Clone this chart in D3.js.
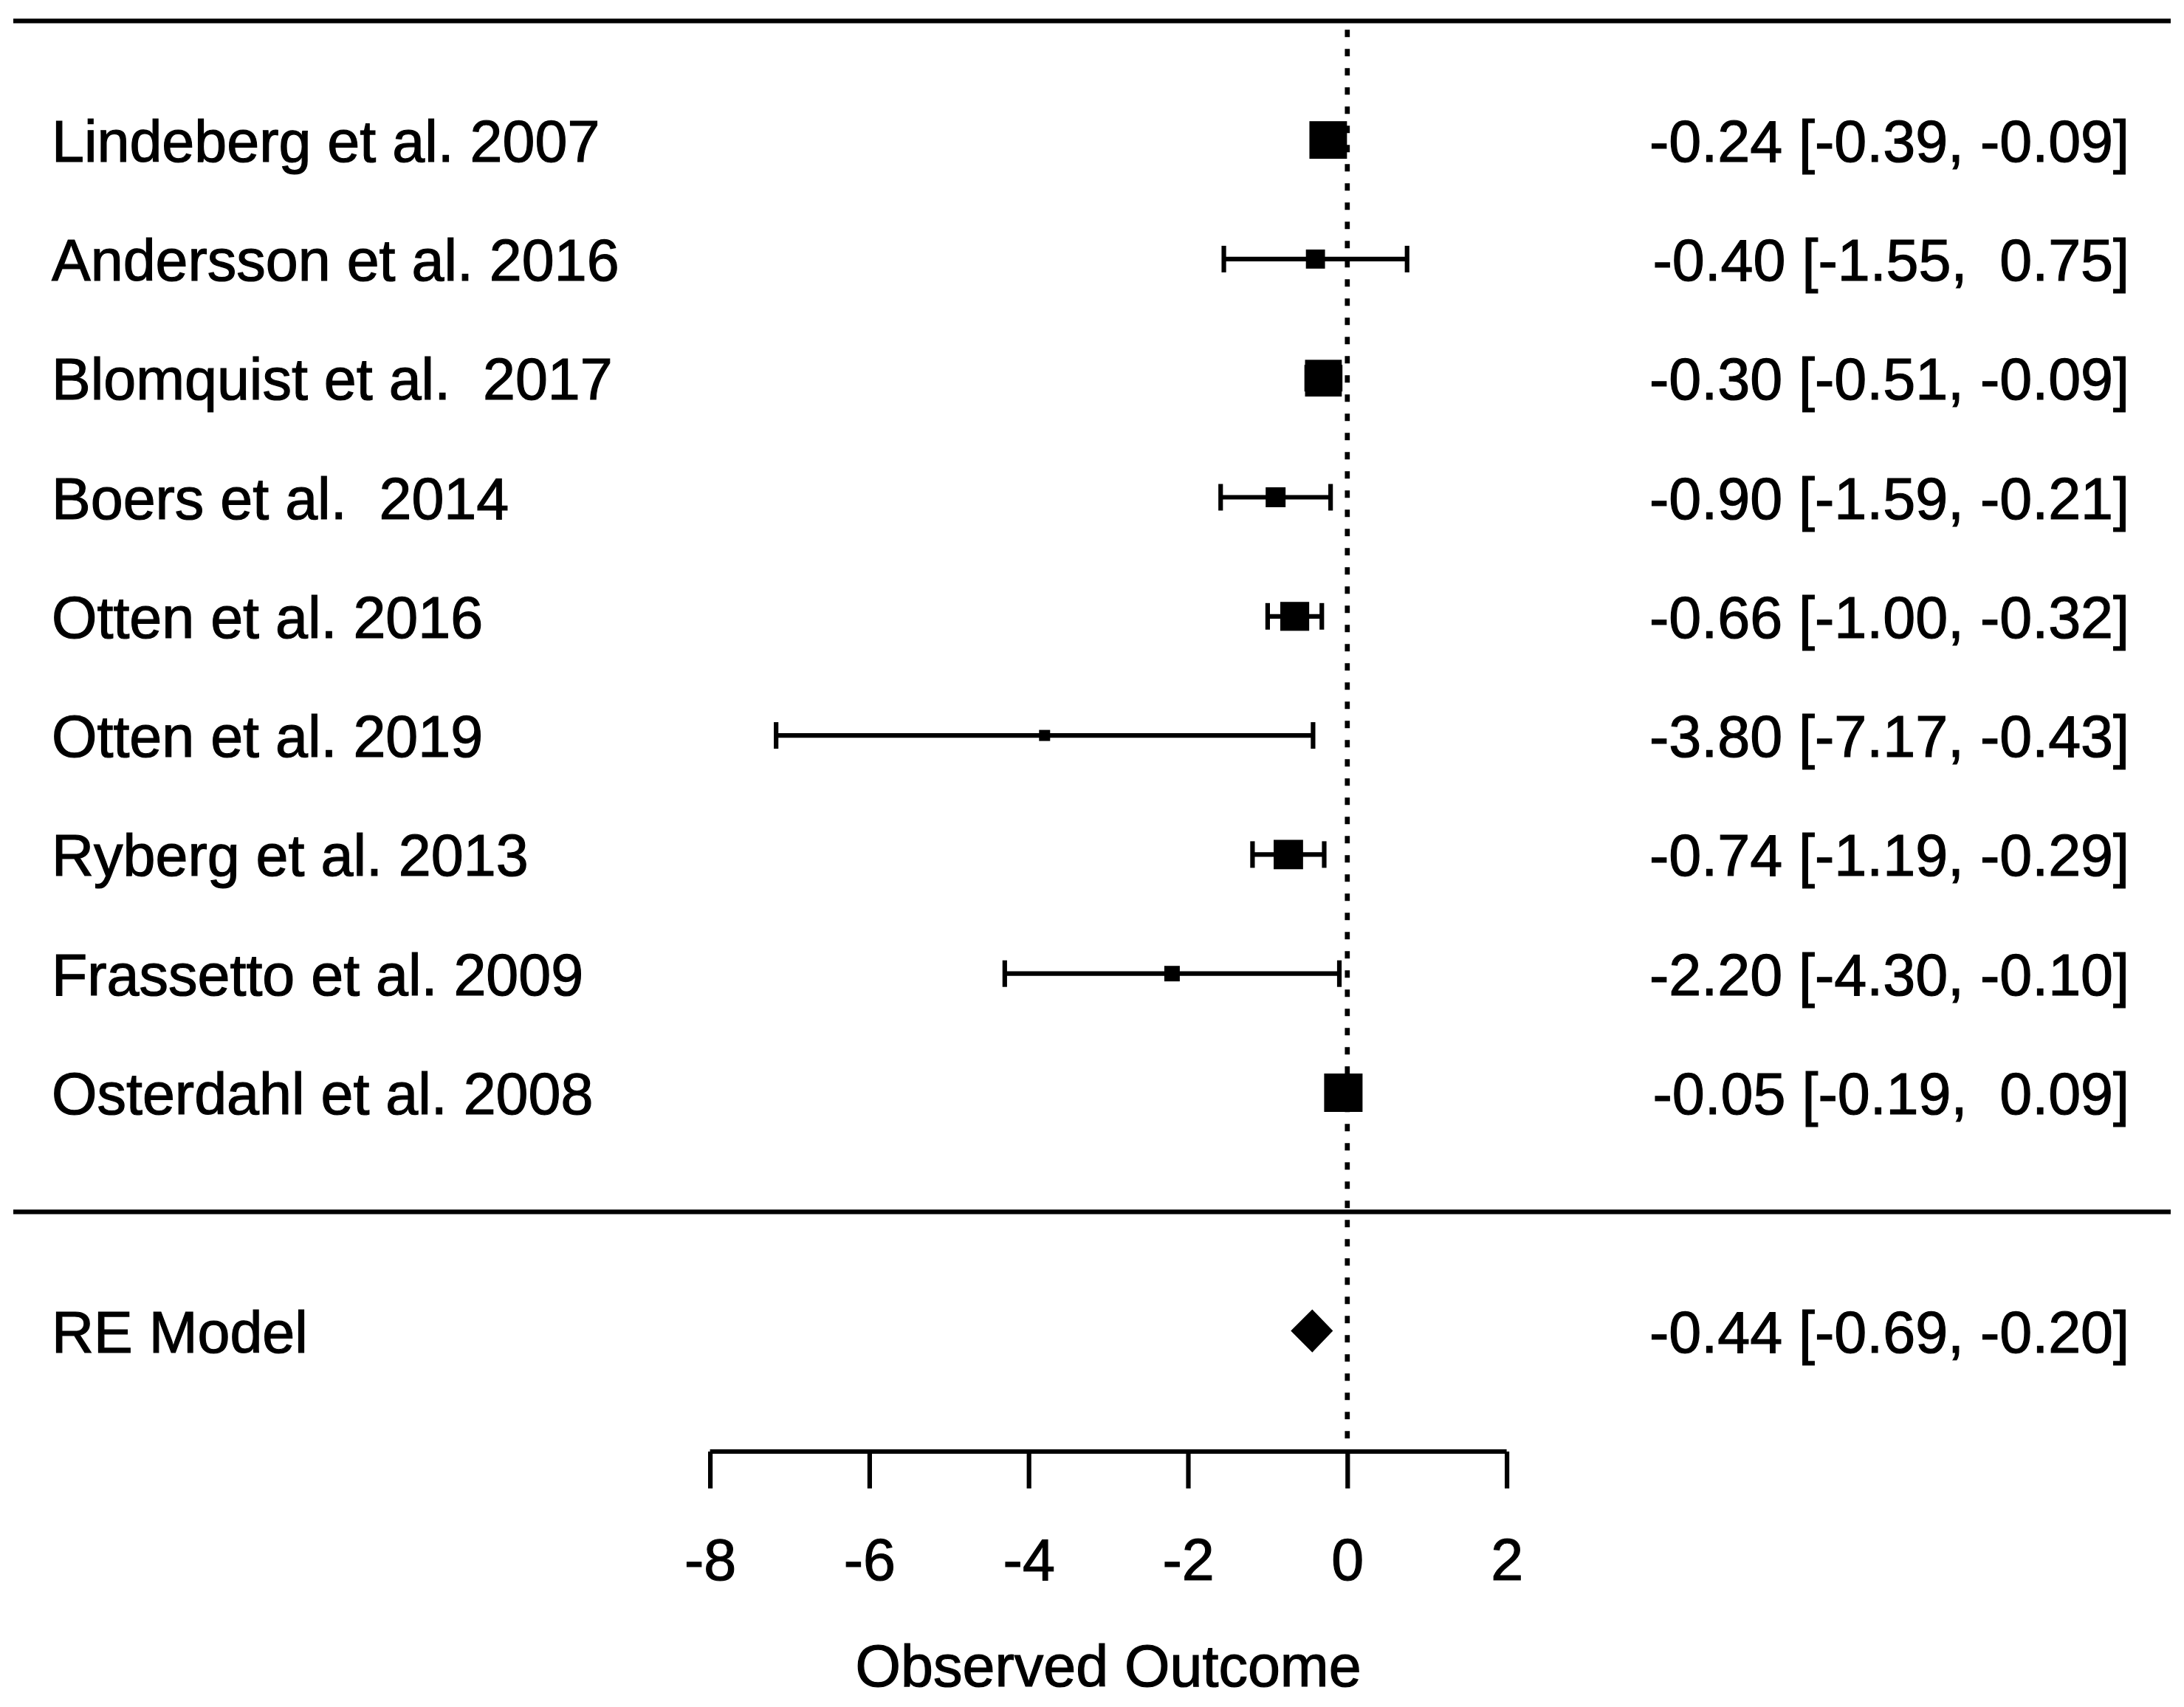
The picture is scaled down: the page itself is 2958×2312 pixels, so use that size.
<!DOCTYPE html>
<html>
<head>
<meta charset="utf-8">
<script src="https://cdn.jsdelivr.net/npm/d3@7"></script>
<style>
  html, body { margin: 0; padding: 0; background: #fff; }
  svg text { font-family: "Liberation Sans", Arial, sans-serif; fill: #000; white-space: pre; stroke: #000; stroke-width: 1.2px; }
</style>
</head>
<body>
<svg id="chart" width="2958" height="2312"></svg>
<script>
// ---- data ----
const studies = [
  "Lindeberg et al. 2007",
  "Andersson et al. 2016",
  "Blomquist et al.  2017",
  "Boers et al.  2014",
  "Otten et al. 2016",
  "Otten et al. 2019",
  "Ryberg et al. 2013",
  "Frassetto et al. 2009",
  "Osterdahl et al. 2008"
];
const estimates = [-0.24, -0.40, -0.30, -0.90, -0.66, -3.80, -0.74, -2.20, -0.05];
const lower     = [-0.39, -1.55, -0.51, -1.59, -1.00, -7.17, -1.19, -4.30, -0.19];
const upper     = [-0.09,  0.75, -0.09, -0.21, -0.32, -0.43, -0.29, -0.10,  0.09];
const weights   = [18.0, 6.7, 17.5, 7.2, 12.7, 1.8, 13.0, 4.5, 18.5];
const summaryLabel = "RE Model";
const summary = { est: -0.44, lb: -0.69, ub: -0.20 };
const xTicks = [-8, -6, -4, -2, 0, 2];
const xLabel = "Observed Outcome";

// ---- layout ----
const W = 2958, H = 2312;
const FS = 79;
const svg = d3.select("#chart");
const k = studies.length;

const x = d3.scaleLinear().domain([-8, 2]).range([961.6, 2040.6]);
const y = d3.scaleLinear().domain([1, k]).range([1480, 189.6]); // row index -> pixel
const size = d3.scaleLinear().domain([0, d3.max(weights)]).range([11, 52]);

const leftX = 70, rightX = 2884;
const lineL = 18, lineR = 2940;
const axisY = 1966;
const lw = 6.2;
const capH = 18;

const rows = studies.map((s, i) => ({
  label: s, est: estimates[i], lb: lower[i], ub: upper[i], w: weights[i], row: k - i
}));

const f2 = d3.format(".2f");
const fmt = v => f2(v).replace("−", "-");
const wEst = d3.max(rows.concat([summary]), d => fmt(d.est).length);
const wLb  = d3.max(rows.concat([summary]), d => fmt(d.lb).length);
const wUb  = d3.max(rows.concat([summary]), d => fmt(d.ub).length);
const annot = d => fmt(d.est).padStart(wEst) + " [" + fmt(d.lb).padStart(wLb) + ", " + fmt(d.ub).padStart(wUb) + "]";

// horizontal rules (top and separator)
svg.selectAll("line.rule").data([k + 1, 0]).join("line")
  .attr("class", "rule")
  .attr("x1", lineL).attr("x2", lineR)
  .attr("y1", d => y(d)).attr("y2", d => y(d))
  .attr("stroke", "#000").attr("stroke-width", lw);

// reference line at 0
svg.append("line")
  .attr("x1", x(0)).attr("x2", x(0))
  .attr("y1", y(k + 1) + 12).attr("y2", axisY)
  .attr("stroke", "#000").attr("stroke-width", lw + 0.5)
  .attr("stroke-dasharray", "10,16");

// CI lines
const g = svg.append("g");
g.selectAll("line.ci").data(rows).join("line")
  .attr("class", "ci")
  .attr("x1", d => x(d.lb)).attr("x2", d => x(d.ub))
  .attr("y1", d => y(d.row)).attr("y2", d => y(d.row))
  .attr("stroke", "#000").attr("stroke-width", lw);
// caps
g.selectAll("line.capL").data(rows).join("line")
  .attr("x1", d => x(d.lb)).attr("x2", d => x(d.lb))
  .attr("y1", d => y(d.row) - capH).attr("y2", d => y(d.row) + capH)
  .attr("stroke", "#000").attr("stroke-width", lw);
g.selectAll("line.capR").data(rows).join("line")
  .attr("x1", d => x(d.ub)).attr("x2", d => x(d.ub))
  .attr("y1", d => y(d.row) - capH).attr("y2", d => y(d.row) + capH)
  .attr("stroke", "#000").attr("stroke-width", lw);
// squares
g.selectAll("rect.pt").data(rows).join("rect")
  .attr("class", "pt")
  .attr("x", d => x(d.est) - size(d.w) / 2)
  .attr("y", d => y(d.row) - size(d.w) / 2)
  .attr("width", d => size(d.w)).attr("height", d => size(d.w))
  .attr("fill", "#000");

// summary diamond
const sRow = -1, dh = 27;
svg.append("path")
  .attr("d", d3.line()([
    [x(summary.lb), y(sRow)],
    [x(summary.est), y(sRow) - dh],
    [x(summary.ub), y(sRow)],
    [x(summary.est), y(sRow) + dh]
  ]) + "Z")
  .attr("fill", "#000").attr("stroke", "#000").attr("stroke-width", 3);

// labels
const allRows = rows.concat([{ label: summaryLabel, est: summary.est, lb: summary.lb, ub: summary.ub, row: sRow }]);
svg.selectAll("text.lab").data(allRows).join("text")
  .attr("class", "lab")
  .attr("x", leftX).attr("y", d => y(d.row) + 29)
  .attr("font-size", FS)
  .text(d => d.label);
svg.selectAll("text.ann").data(allRows).join("text")
  .attr("class", "ann")
  .attr("x", rightX).attr("y", d => y(d.row) + 29)
  .attr("font-size", FS)
  .attr("text-anchor", "end")
  .text(d => annot(d));

// x axis
const axis = d3.axisBottom(x).tickValues(xTicks).tickSize(50).tickPadding(0)
  .tickFormat(d => String(d));
const ag = svg.append("g").attr("transform", `translate(0,${axisY})`).call(axis);
ag.select(".domain").attr("stroke", "#000").attr("stroke-width", lw)
  .attr("d", `M${x(-8)},0H${x(2)}`);
ag.selectAll(".tick line").attr("stroke", "#000").attr("stroke-width", lw);
ag.selectAll(".tick text")
  .attr("font-size", FS)
  .attr("font-family", "Liberation Sans, Arial, sans-serif")
  .attr("fill", "#000")
  .attr("dy", null)
  .attr("y", 2140 - axisY);

svg.append("text")
  .attr("x", (x(-8) + x(2)) / 2).attr("y", 2284)
  .attr("text-anchor", "middle").attr("font-size", FS)
  .text(xLabel);
</script>
</body>
</html>
